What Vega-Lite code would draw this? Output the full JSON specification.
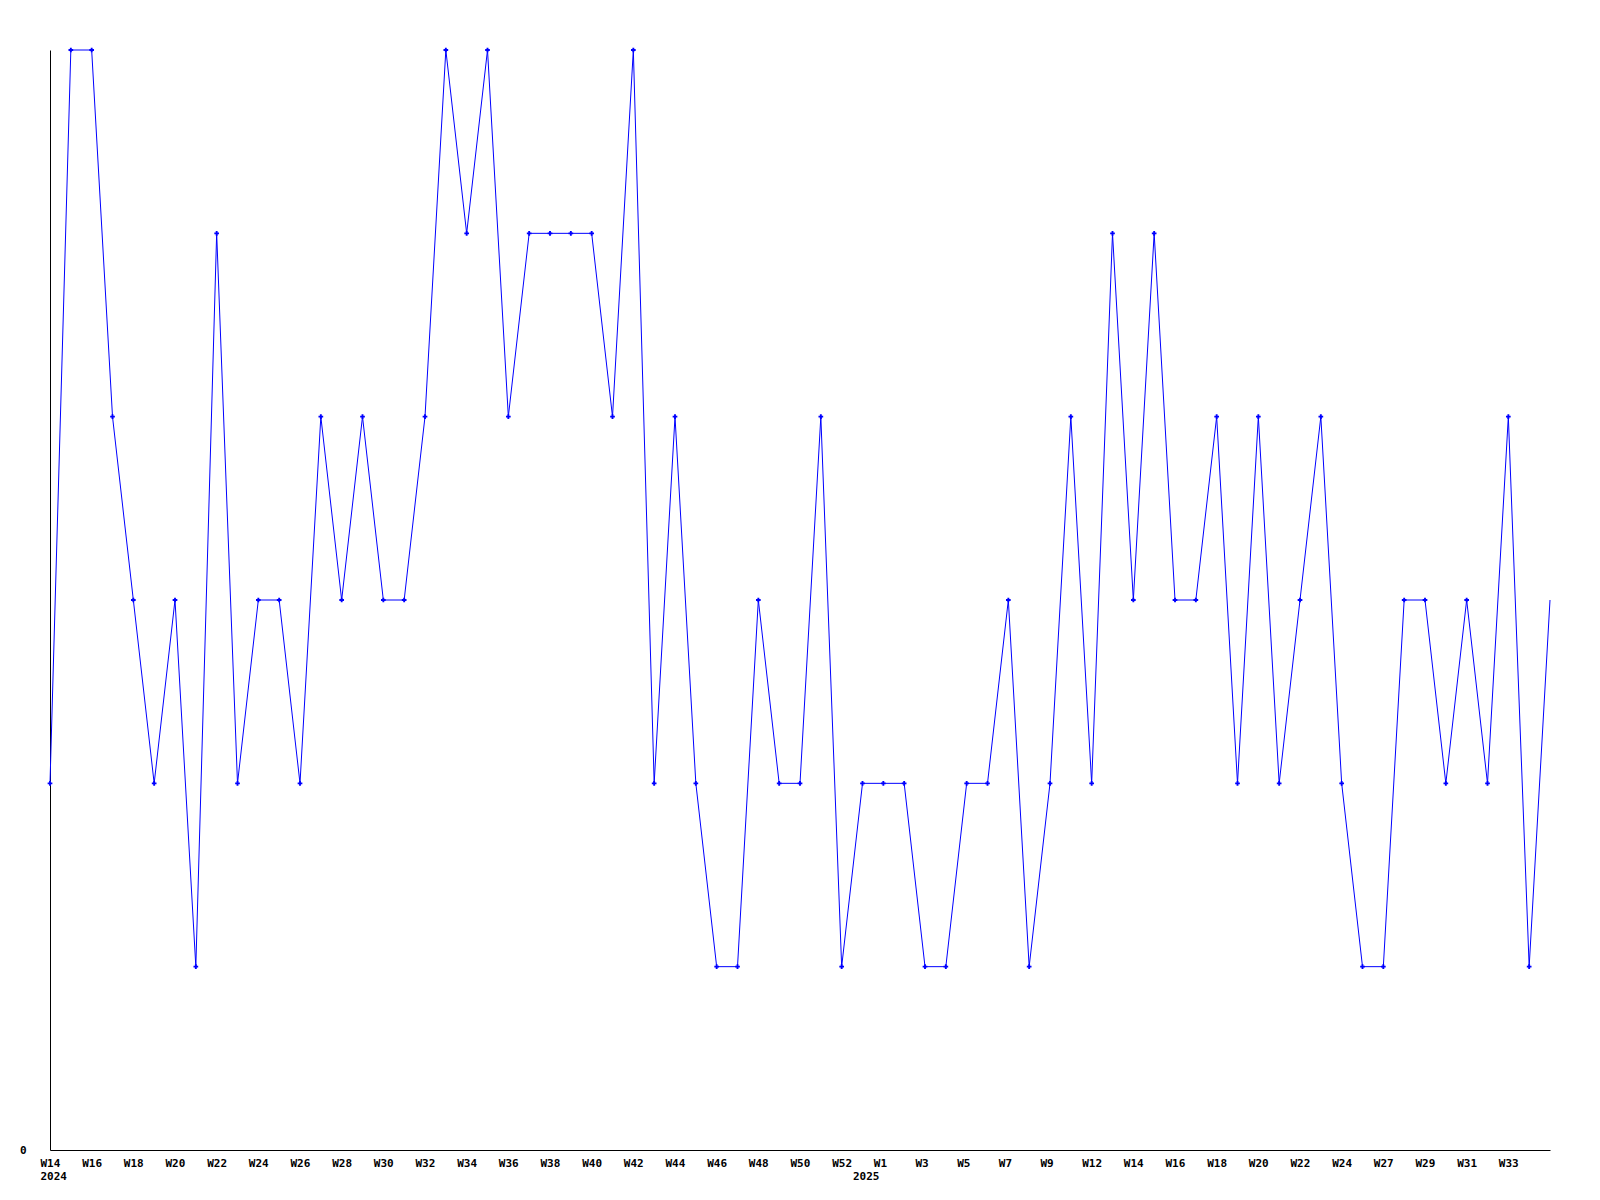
{
  "$schema": "https://vega.github.io/schema/vega-lite/v6.json",
  "width": 1500,
  "height": 1100,
  "autosize": {"type": "none"},
  "padding": {"left": 50, "top": 50, "right": 50, "bottom": 50},
  "background": "white",
  "config": {
    "view": {"stroke": null},
    "axis": {"labelFont": "DejaVu Sans Mono", "labelFontWeight": "bold", "labelFontSize": 11, "labelColor": "black", "domainColor": "black", "domainWidth": 1, "ticks": false, "grid": false, "title": null}
  },
  "data": {"values": [
    {"week": "2024-W14", "count": 2}, {"week": "2024-W15", "count": 6}, {"week": "2024-W16", "count": 6}, {"week": "2024-W17", "count": 4},
    {"week": "2024-W18", "count": 3}, {"week": "2024-W19", "count": 2}, {"week": "2024-W20", "count": 3}, {"week": "2024-W21", "count": 1},
    {"week": "2024-W22", "count": 5}, {"week": "2024-W23", "count": 2}, {"week": "2024-W24", "count": 3}, {"week": "2024-W25", "count": 3},
    {"week": "2024-W26", "count": 2}, {"week": "2024-W27", "count": 4}, {"week": "2024-W28", "count": 3}, {"week": "2024-W29", "count": 4},
    {"week": "2024-W30", "count": 3}, {"week": "2024-W31", "count": 3}, {"week": "2024-W32", "count": 4}, {"week": "2024-W33", "count": 6},
    {"week": "2024-W34", "count": 5}, {"week": "2024-W35", "count": 6}, {"week": "2024-W36", "count": 4}, {"week": "2024-W37", "count": 5},
    {"week": "2024-W38", "count": 5}, {"week": "2024-W39", "count": 5}, {"week": "2024-W40", "count": 5}, {"week": "2024-W41", "count": 4},
    {"week": "2024-W42", "count": 6}, {"week": "2024-W43", "count": 2}, {"week": "2024-W44", "count": 4}, {"week": "2024-W45", "count": 2},
    {"week": "2024-W46", "count": 1}, {"week": "2024-W47", "count": 1}, {"week": "2024-W48", "count": 3}, {"week": "2024-W49", "count": 2},
    {"week": "2024-W50", "count": 2}, {"week": "2024-W51", "count": 4}, {"week": "2024-W52", "count": 1},
    {"week": "2025-W00", "count": 2}, {"week": "2025-W01", "count": 2}, {"week": "2025-W02", "count": 2}, {"week": "2025-W03", "count": 1},
    {"week": "2025-W04", "count": 1}, {"week": "2025-W05", "count": 2}, {"week": "2025-W06", "count": 2}, {"week": "2025-W07", "count": 3},
    {"week": "2025-W08", "count": 1}, {"week": "2025-W09", "count": 2}, {"week": "2025-W11", "count": 4}, {"week": "2025-W12", "count": 2},
    {"week": "2025-W13", "count": 5}, {"week": "2025-W14", "count": 3}, {"week": "2025-W15", "count": 5}, {"week": "2025-W16", "count": 3},
    {"week": "2025-W17", "count": 3}, {"week": "2025-W18", "count": 4}, {"week": "2025-W19", "count": 2}, {"week": "2025-W20", "count": 4},
    {"week": "2025-W21", "count": 2}, {"week": "2025-W22", "count": 3}, {"week": "2025-W23", "count": 4}, {"week": "2025-W24", "count": 2},
    {"week": "2025-W26", "count": 1}, {"week": "2025-W27", "count": 1}, {"week": "2025-W28", "count": 3}, {"week": "2025-W29", "count": 3},
    {"week": "2025-W30", "count": 2}, {"week": "2025-W31", "count": 3}, {"week": "2025-W32", "count": 2}, {"week": "2025-W33", "count": 4},
    {"week": "2025-W34", "count": 1}, {"week": "2025-W35", "count": 3}
  ]},
  "encoding": {
    "x": {
      "field": "week", "type": "ordinal", "sort": null,
      "scale": {"type": "point", "padding": 0},
      "axis": {
        "labelAngle": 0,
        "labelAlign": "left",
        "labelBaseline": "top",
        "labelOffset": -10,
        "labelPadding": 7,
        "labelLineHeight": 13,
        "labelOverlap": false,
        "values": ["2024-W14", "2024-W16", "2024-W18", "2024-W20", "2024-W22", "2024-W24", "2024-W26", "2024-W28", "2024-W30", "2024-W32", "2024-W34", "2024-W36", "2024-W38", "2024-W40", "2024-W42", "2024-W44", "2024-W46", "2024-W48", "2024-W50", "2024-W52", "2025-W00", "2025-W01", "2025-W03", "2025-W05", "2025-W07", "2025-W09", "2025-W12", "2025-W14", "2025-W16", "2025-W18", "2025-W20", "2025-W22", "2025-W24", "2025-W27", "2025-W29", "2025-W31", "2025-W33"],
        "labelExpr": "datum.value == '2024-W14' ? ['W14', '2024'] : datum.value == '2025-W00' ? ['', '2025'] : 'W' + toNumber(slice(datum.value, 6))"
      }
    },
    "y": {
      "field": "count", "type": "quantitative",
      "scale": {"domain": [0, 6], "nice": false, "zero": true},
      "axis": {"values": [0], "labelPadding": 24, "labelBaseline": "middle"}
    }
  },
  "layer": [
    {"mark": {"type": "line", "color": "#0000ff", "strokeWidth": 1}},
    {
      "transform": [{"filter": "datum.week != '2025-W35'"}],
      "mark": {"type": "point", "shape": "cross", "size": 22, "filled": true, "color": "#0000ff", "opacity": 1}
    }
  ]
}
